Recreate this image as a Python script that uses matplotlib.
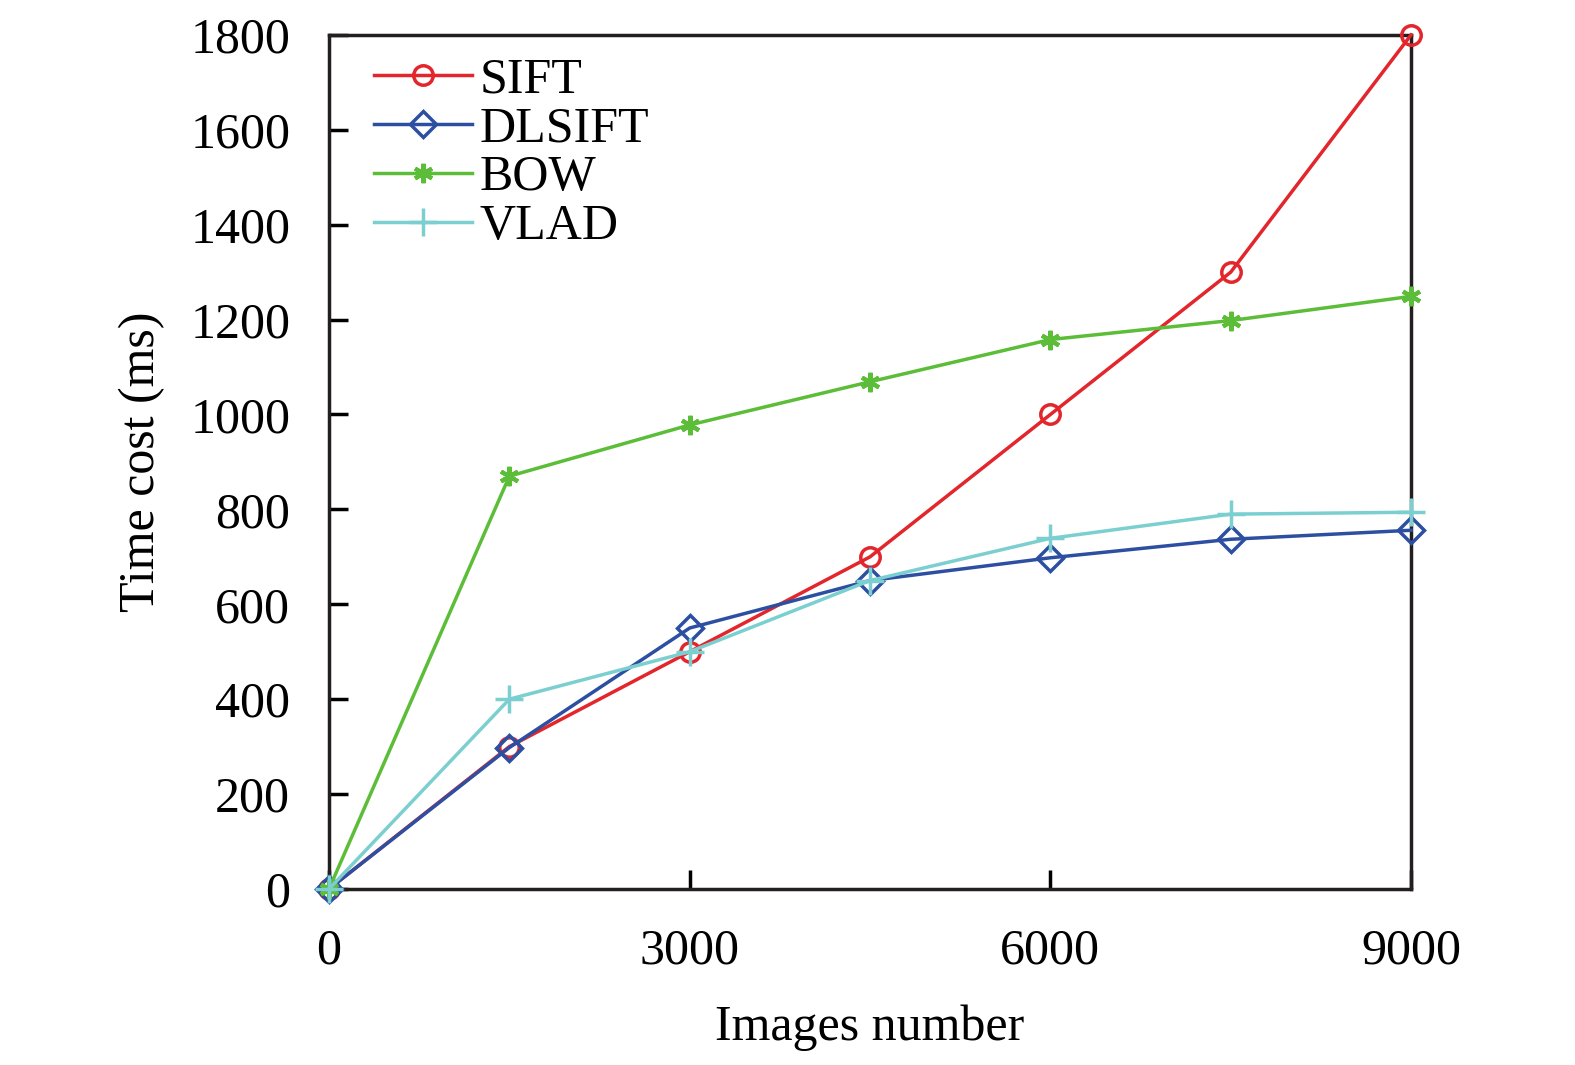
import matplotlib
matplotlib.use('Agg')
import matplotlib.pyplot as plt

images = [0, 1500, 3000, 4500, 6000, 7500, 9000]
sift = [0, 300, 500, 700, 1000, 1300, 1800]
dlsift = [0, 298, 550, 650, 698, 737, 756]
bow = [0, 870, 978, 1069, 1158, 1198, 1249]
vlad = [0, 400, 500, 650, 739, 790, 794]

plt.rcParams['font.family'] = ['Liberation Serif', 'DejaVu Serif']

fig = plt.figure(figsize=(15.75, 10.65), dpi=100)
ax = fig.add_axes([0.2089, 0.1653, 0.687, 0.8019])

ax.plot(images, sift, color='#e2262b', lw=2.5, marker='o', ms=14,
        mfc='none', mew=2.5, label='SIFT', clip_on=False, zorder=3)
ax.plot(images, dlsift, color='#2d4fa2', lw=2.5, marker='D', ms=13,
        mfc='none', mew=2.5, label='DLSIFT', clip_on=False, zorder=3)
ax.plot(images, bow, color='#5cbd39', lw=2.5, marker=(6, 2, 0), ms=14,
        mew=3, label='BOW', clip_on=False, zorder=3)
ax.plot(images, vlad, color='#7ccfd0', lw=2.5, marker='+', ms=20,
        mew=2.5, label='VLAD', clip_on=False, zorder=3)

ax.set_xlim(0, 9000)
ax.set_ylim(0, 1800)
ax.set_xticks([0, 3000, 6000, 9000])
ax.set_yticks(range(0, 1801, 200))
ax.tick_params(direction='in', length=14, width=2.5, labelsize=36,
               top=False, right=False, pad=28)
for s in ax.spines.values():
    s.set_linewidth(2.5)
    s.set_color('#231f20')

ax.set_xlabel('Images number', fontsize=36, labelpad=22)
ax.set_ylabel('Time cost (ms)', fontsize=36, labelpad=18)

ax.legend(loc='upper left', fontsize=36, frameon=False, handlelength=1.96,
          handletextpad=0.15, labelspacing=0.05, borderaxespad=0.0,
          bbox_to_anchor=(0.023, 0.998))

fig.savefig('out.png', dpi=100)
